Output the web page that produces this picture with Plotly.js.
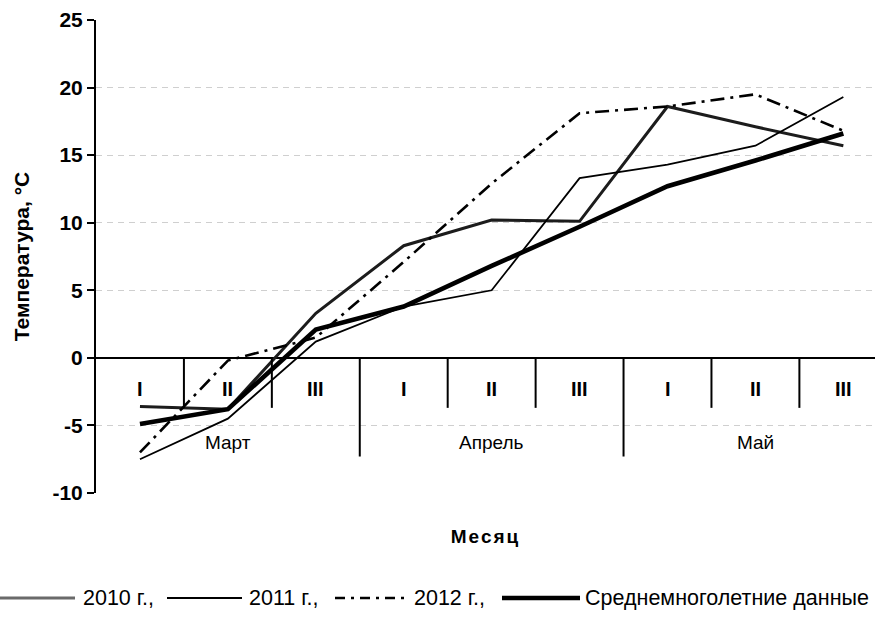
<!DOCTYPE html>
<html>
<head>
<meta charset="utf-8">
<script src="https://cdn.plot.ly/plotly-3.0.1.min.js"></script>
<style>
html,body{margin:0;padding:0;background:#fff;}
#chart{width:875px;height:618px;}
.g-xtitle text{letter-spacing:2px;}
</style>
</head>
<body>
<div id="chart"></div>
<script>
// ---- data ----
const decades = ['I','II','III','I','II','III','I','II','III'];
const months = ['Март','Апрель','Май'];
const y2010 = [-3.6, -3.8, 3.3, 8.3, 10.2, 10.1, 18.6, 17.1, 15.7];
const y2011 = [-7.5, -4.5, 1.2, 3.8, 5.0, 13.3, 14.3, 15.7, 19.3];
const y2012 = [-7.0, -0.2, 1.5, 7.1, 12.9, 18.1, 18.6, 19.5, 16.8];
const yAvg  = [-4.9, -3.8, 2.1, 3.8, 6.8, 9.7, 12.7, 14.6, 16.6];
const seriesNames = ['2010 г.,', '2011 г.,', '2012 г.,', 'Среднемноголетние данные'];
const yTickVals = [-10, -5, 0, 5, 10, 15, 20, 25];
const yTickText = ['-10', '-5', '0', '5', '10', '15', '20', '25'];

// ---- build ----
const xIdx = decades.map((d, i) => i);
const FONT = 'Arial, "Liberation Sans", sans-serif';

const styles = [
  {color: '#1c1c1c', width: 3},
  {color: '#000', width: 1.8},
  {color: '#000', width: 2.6, dash: '14px,6px,3px,6px'},
  {color: '#000', width: 4.6}
];
const legendStyles = [
  {color: '#6a6a6a', width: 3.2},
  {color: '#000', width: 2},
  {color: '#000', width: 2.6, dash: '10px,6px,3px,6px'},
  {color: '#000', width: 4.6}
];
const allY = [y2010, y2011, y2012, yAvg];

const traces = allY.map((ys, k) => ({
  type: 'scatter', mode: 'lines', x: xIdx, y: ys, name: seriesNames[k],
  line: styles[k], hoverinfo: 'skip'
}));

// separators between decades / months
const shapes = [];
for (let i = 0; i < decades.length - 1; i++) {
  const monthEdge = (i + 1) % 3 === 0;
  shapes.push({type: 'line', xref: 'x', yref: 'y', x0: i + 0.5, x1: i + 0.5,
    y0: 0, y1: monthEdge ? -7.3 : -3.7, line: {color: '#000', width: 2}});
}

const annotations = [];
decades.forEach((d, i) => annotations.push({
  xref: 'x', yref: 'y', x: i, y: -2.3, text: '<b>' + d + '</b>', showarrow: false,
  font: {family: FONT, size: 20, color: '#000'}
}));
months.forEach((m, j) => annotations.push({
  xref: 'x', yref: 'y', x: j * 3 + 1, y: -6.25, text: m, showarrow: false,
  font: {family: FONT, size: 19, color: '#000'}
}));

// custom legend (pixel positions converted to paper coords)
const L = 96, PW = 779, B = 493, PH = 473;
const px = v => (v - L) / PW;
const py = v => (B - v) / PH;
const legY = 598;
const legItems = [[0, 75, 81], [167, 242, 247], [335, 405, 412], [502, 580, 583]];
legItems.forEach((it, k) => {
  shapes.push({type: 'line', xref: 'paper', yref: 'paper',
    x0: px(it[0]), x1: px(it[1]), y0: py(legY), y1: py(legY), line: legendStyles[k]});
  annotations.push({xref: 'paper', yref: 'paper', x: px(it[2]), y: py(legY),
    xanchor: 'left', yanchor: 'middle', text: seriesNames[k], showarrow: false,
    font: {family: FONT, size: 21.5, color: '#000'}});
});

const layout = {
  width: 875, height: 618,
  margin: {l: 96, r: 0, t: 20, b: 125},
  paper_bgcolor: '#fff', plot_bgcolor: '#fff',
  showlegend: false,
  xaxis: {
    range: [-0.5, 8.36], showgrid: false, zeroline: false, showticklabels: false,
    ticks: '', showline: false, fixedrange: true,
    title: {text: '<b>Месяц</b>', font: {family: FONT, size: 19, color: '#000'}, standoff: 36}
  },
  yaxis: {
    range: [-10, 25], tickvals: yTickVals, ticktext: yTickText,
    ticks: 'outside', ticklen: 7, tickwidth: 2, tickcolor: '#000',
    showline: true, linewidth: 2, linecolor: '#000',
    zeroline: true, zerolinewidth: 2, zerolinecolor: '#000',
    showgrid: true, gridcolor: '#cfcfcf', gridwidth: 1, griddash: '6px,5px',
    tickfont: {family: FONT, size: 21, color: '#000', weight: 'bold'},
    title: {text: '<b>Температура, °С</b>', font: {family: FONT, size: 21, color: '#000'}, standoff: 17},
    fixedrange: true
  },
  shapes: shapes,
  annotations: annotations
};

Plotly.newPlot('chart', traces, layout, {displayModeBar: false, staticPlot: true});
</script>
</body>
</html>
